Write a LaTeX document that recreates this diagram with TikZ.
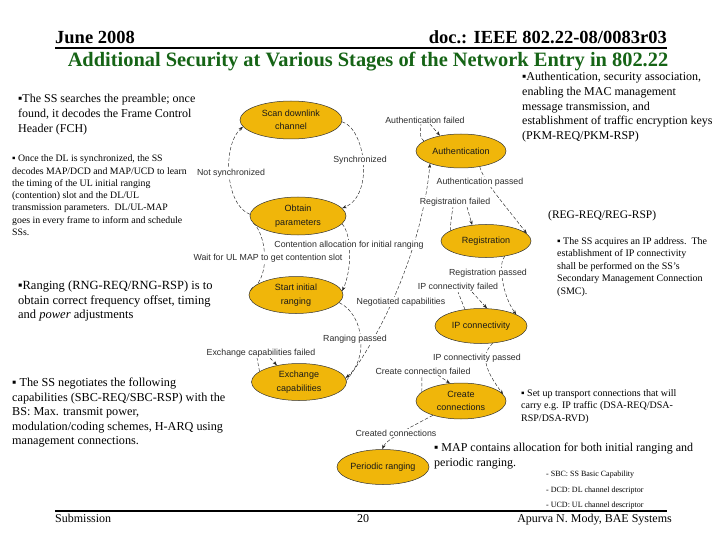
\documentclass[tikz,border=0pt]{standalone}
\usepackage{fontspec}
\setmainfont{Liberation Serif}
\setsansfont{Liberation Sans}
\usetikzlibrary{arrows.meta,shapes.geometric,backgrounds}
\definecolor{stategold}{RGB}{240,182,10}
\definecolor{titlegreen}{RGB}{22,100,22}
\definecolor{lblgray}{RGB}{45,45,45}
\def\fsz#1#2{\fontsize{#1}{#2}\selectfont}
\tikzset{
	state/.style={ellipse, draw=black!80, line width=0.5pt, fill=stategold, inner sep=0pt, align=center, font=\sffamily\fsz{9}{13.5}, text=black!90},
	lbl/.style={fill=white, inner sep=0.6pt, font=\sffamily\fsz{8.8}{10}, text=lblgray},
	link/.style={dash pattern=on 3.5pt off 2pt, line width=0.45pt, black!85},
	arr/.style={link, -{Stealth[length=4.5pt,width=3.2pt]}},
	note/.style={anchor=north west, inner sep=0pt, align=left, text=black},
	gloss/.style={anchor=base west, inner sep=0pt, font=\fsz{8}{9}}
}

\begin{document}
\begin{tikzpicture}[x=1pt, y=-1pt]
		%%%%% START %%%%%
		\useasboundingbox (0,0) rectangle (720,540);
		
		% header
		\node[anchor=base west, inner sep=0pt, font=\bfseries\fsz{18.5}{20}] (month) at (55,44) {June 2008};
		\node[anchor=base east, inner sep=0pt, font=\bfseries\fsz{18.5}{20}] (docno) at (667,44) {doc.: IEEE 802.22-08/0083r03};
		\draw[line width=1.2pt] (55,48) -- (667,48);
		\node[anchor=base, inner sep=0pt, font=\bfseries\fsz{20.4}{22}, text=titlegreen] (title) at (368,67) {Additional Security at Various Stages of the Network Entry in 802.22};
		
		% states
		\node[state, minimum width=102pt, minimum height=38pt] (scan) at (291,120) {Scan downlink\\channel};
		\node[state, minimum width=90pt, minimum height=34pt] (auth) at (461,151) {Authentication};
		\node[state, minimum width=96pt, minimum height=38pt] (obtain) at (298,216) {Obtain\\parameters};
		\node[state, minimum width=90pt, minimum height=33pt] (reg) at (486,241) {Registration};
		\node[state, minimum width=94pt, minimum height=37pt] (start) at (296,295) {Start initial\\ranging};
		\node[state, minimum width=92pt, minimum height=35pt] (ip) at (481,326) {IP connectivity};
		\node[state, minimum width=95pt, minimum height=37pt] (exch) at (299,382) {Exchange\\capabilities};
		\node[state, minimum width=90pt, minimum height=36pt] (create) at (461,401) {Create\\connections};
		\node[state, minimum width=92pt, minimum height=35pt] (periodic) at (383,467) {Periodic ranging};
		
		% transition labels
		\node[lbl] (authfail) at (425,120) {Authentication failed};
		\node[lbl] (sync) at (360,160) {Synchronized};
		\node[lbl] (notsync) at (231,173) {Not synchronized};
		\node[lbl] (authpass) at (480,182) {Authentication passed};
		\node[lbl] (regfail) at (455,202) {Registration failed};
		\node[lbl] (contention) at (349,245) {Contention allocation for initial ranging};
		\node[lbl] (waitul) at (268,258) {Wait for UL MAP to get contention slot};
		\node[lbl] (regpass) at (488,273) {Registration passed};
		\node[lbl] (ipfail) at (458,287) {IP connectivity failed};
		\node[lbl] (negot) at (401,302) {Negotiated capabilities};
		\node[lbl] (rangpass) at (355,339) {Ranging passed};
		\node[lbl] (exchfail) at (261,353) {Exchange capabilities failed};
		\node[lbl] (ippass) at (477,358) {IP connectivity passed};
		\node[lbl] (createfail) at (423,371) {Create connection failed};
		\node[lbl] (created) at (396,433) {Created connections};
		
		% transitions
		\begin{pgfonlayer}{background}
		\draw[arr] (scan.-2) .. controls (365,128) and (375,195) .. (obtain.10);
		\draw[arr] (obtain.178) .. controls (225,205) and (222,145) .. (scan.188);
		\draw[arr] (obtain.-10) .. controls (352,235) and (352,270) .. (start.5);
		\draw[arr] (obtain.189) .. controls (265,232) and (272,275) .. (start.175);
		\draw[arr] (start.-10) .. controls (365,315) and (368,360) .. (exch.5);
		\draw[arr] (exch.2) .. controls (395,315) and (424,230) .. (auth.202);
		\draw[link] (auth.165) .. controls (420,137) .. ([xshift=-4pt]authfail.south);
		\draw[arr] ([xshift=5pt]authfail.south) -- (auth.144);
		\draw[arr] (auth.-40) .. controls (484,182) and (505,205) .. (reg.10);
		\draw[link] (reg.164) .. controls (451,220) .. ([xshift=-2pt]regfail.south);
		\draw[arr] ([xshift=12pt]regfail.south) -- (reg.131);
		\draw[arr] (reg.-39) .. controls (498,262) and (502,295) .. (ip.18);
		\draw[link] (ip.134) -- (ipfail.south);
		\draw[arr] ([xshift=14pt]ipfail.south) -- (ip.71);
		\draw[arr] (ip.-55) .. controls (480,355) and (485,370) .. (create.9);
		\draw[link] (create.167) -- ([xshift=-1pt]createfail.south);
		\draw[arr] ([xshift=15pt]createfail.south) -- (create.122);
		\draw[arr] (create.207) .. controls (405,430) and (386,440) .. (periodic.92);
		\draw[link] (exch.165) -- ([xshift=-4pt]exchfail.south);
		\draw[arr] ([xshift=9pt]exchfail.south) -- (exch.143);
		\end{pgfonlayer}
		
		% notes
		\node[note, font=\fsz{12}{15}] (searchtxt) at (18,94) {▪The SS searches the preamble; once\\found, it decodes the Frame Control\\Header (FCH)};
		\node[note, font=\fsz{9.8}{12.2}] (dltxt) at (12,155) {▪ Once the DL is synchronized, the SS\\decodes MAP/DCD and MAP/UCD to learn\\the timing of the UL initial ranging\\(contention) slot and the DL/UL\\transmission parameters.\ \ DL/UL-MAP\\goes in every frame to inform and schedule\\SSs.};
		\node[note, font=\fsz{12}{14.8}] (authtxt) at (522,72) {▪Authentication, security association,\\enabling the MAC management\\message transmission, and\\establishment of traffic encryption keys\\(PKM-REQ/PKM-RSP)};
		\node[note, font=\fsz{11.5}{13}] (regtxt) at (548,210) {(REG-REQ/REG-RSP)};
		\node[note, font=\fsz{10}{12.5}] (iptxt) at (557,237) {▪ The SS acquires an IP address.\ \ The\\establishment of IP connectivity\\shall be performed on the SS's\\Secondary Management Connection\\(SMC).};
		\node[note, font=\fsz{12.5}{14.5}] (rngtxt) at (18,281) {▪Ranging (RNG-REQ/RNG-RSP) is to\\obtain correct frequency offset, timing\\and \textit{power} adjustments};
		\node[note, font=\fsz{12.2}{14.5}] (sbctxt) at (12,378) {▪ The SS negotiates the following\\capabilities (SBC-REQ/SBC-RSP) with the\\BS: Max. transmit power,\\modulation/coding schemes, H-ARQ using\\management connections.};
		\node[note, font=\fsz{10}{12.5}] (dsatxt) at (521,389) {▪ Set up transport connections that will\\carry e.g. IP traffic (DSA-REQ/DSA-\\RSP/DSA-RVD)};
		\node[note, font=\fsz{12}{14.5}] (maptxt) at (434,443) {▪ MAP contains allocation for both initial ranging and\\periodic ranging.};
		\node[gloss] (sbcdef) at (546,476) {- SBC: SS Basic Capability};
		\node[gloss] (dcddef) at (546,492) {- DCD: DL channel descriptor};
		\node[gloss] (ucddef) at (546,507) {- UCD: UL channel descriptor};
		
		% footer
		\draw[line width=2pt] (55,511) -- (667,511);
		\node[anchor=base west, inner sep=0pt, font=\fsz{12}{14}] (submit) at (55,522) {Submission};
		\node[anchor=base, inner sep=0pt, font=\fsz{12}{14}] (pageno) at (363,522) {20};
		\node[anchor=base east, inner sep=0pt, font=\fsz{12}{14}] (author) at (672,522) {Apurva N. Mody, BAE Systems};
		
		%%%%% END %%%%%
\end{tikzpicture}
\end{document}
